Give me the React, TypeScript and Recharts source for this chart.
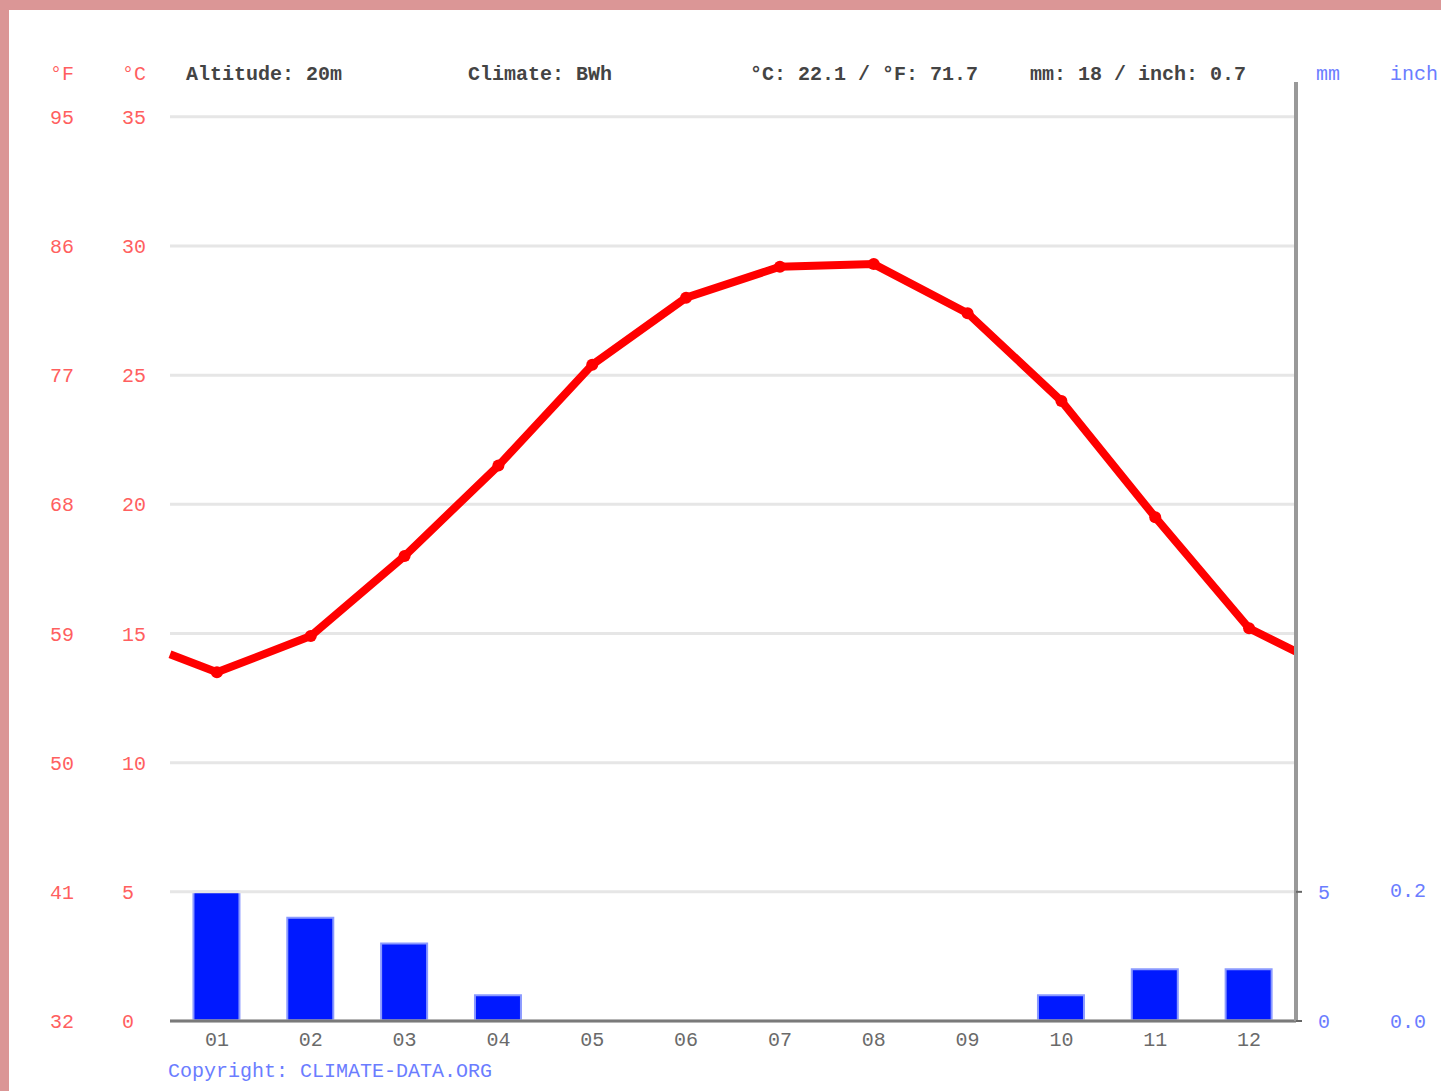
import React from 'react'
import { ComposedChart, Bar, Line, XAxis, YAxis, ReferenceLine } from 'recharts'

const months = ['01', '02', '03', '04', '05', '06', '07', '08', '09', '10', '11', '12']
const tempC = [13.5, 14.9, 18.0, 21.5, 25.4, 28.0, 29.2, 29.3, 27.4, 24.0, 19.5, 15.2]
const precipMm = [5, 4, 3, 1, 0, 0, 0, 0, 0, 1, 2, 2]
// where the red line meets the left / right edge of the plot
const edgeTempC = [14.2, 14.3]

const celsiusTicks = [0, 5, 10, 15, 20, 25, 30, 35]
const fahrenheitTicks = [32, 41, 50, 59, 68, 77, 86, 95]
const mmTicks = [0, 5]
const inchTicks = [0, 0.2]
const monthEdges = [0, 1, 2, 3, 4, 5, 6, 7, 8, 9, 10, 11, 12]
const monthCenters = months.map((_, i) => i + 0.5)

// plot top sits a little above 35 °C so the right axis line runs up to the header
const TOP_C = 36.35

const data = months.map((m, i) => ({ x: i + 0.5, month: m, temp: tempC[i], precip: precipMm[i] }))
const lineData = [{ x: 0, temp: edgeTempC[0] }, ...data, { x: 12, temp: edgeTempC[1] }]

const FONT = '"Liberation Mono", "DejaVu Sans Mono", monospace'
const RED = '#ff5f5f'
const BLUE = '#6b7dff'

const TempDot = (props: any) => {
  const { cx, cy, payload, index } = props
  if (!payload || !payload.month) return <g key={'d' + index} />
  return <circle key={'d' + index} cx={cx} cy={cy} r={6} fill="#ff0000" />
}

export default function App() {
  return (
    <div style={{ position: 'absolute', left: 0, top: 0, width: 1441, height: 1091, background: '#db9696', overflow: 'hidden' }}>
      <div style={{ position: 'absolute', left: 9, top: 10, right: 0, bottom: 0, background: '#ffffff' }} />
      <div style={{ position: 'absolute', left: 0, top: 0 }}>
        <ComposedChart width={1441} height={1091} data={data} margin={{ top: 82, right: 0, bottom: 22, left: 0 }}>
          <XAxis
            xAxisId="edges"
            dataKey="x"
            type="number"
            domain={[0, 12]}
            ticks={monthEdges}
            height={8}
            tick={false}
            tickSize={6}
            axisLine={{ stroke: '#7a7a7a', strokeWidth: 3 }}
            tickLine={{ stroke: '#555', strokeWidth: 2 }}
          />
          <XAxis
            xAxisId="labels"
            dataKey="x"
            type="number"
            domain={[0, 12]}
            ticks={monthCenters}
            height={40}
            axisLine={false}
            tickLine={false}
            tickSize={0}
            tickMargin={3}
            tickFormatter={(v: number) => months[Math.floor(v)]}
            tick={{ fill: '#6a6a6a', fontSize: 20, fontFamily: FONT }}
          />
          <YAxis
            yAxisId="l1c"
            type="number"
            domain={[0, TOP_C]}
            allowDataOverflow
            ticks={celsiusTicks}
            width={85}
            axisLine={false}
            tickLine={false}
            tickSize={0}
            tickMargin={48}
            tick={{ fill: RED, fontSize: 20, fontFamily: FONT, textAnchor: 'start' }}
          />
          <YAxis
            yAxisId="l2f"
            type="number"
            domain={[32, 32 + TOP_C * 1.8]}
            allowDataOverflow
            ticks={fahrenheitTicks}
            width={85}
            axisLine={false}
            tickLine={false}
            tickSize={0}
            tickMargin={35}
            tick={{ fill: RED, fontSize: 20, fontFamily: FONT, textAnchor: 'start' }}
          />
          <YAxis
            yAxisId="r1mm"
            orientation="right"
            type="number"
            domain={[0, TOP_C]}
            allowDataOverflow
            ticks={mmTicks}
            width={80}
            axisLine={{ stroke: '#999', strokeWidth: 4 }}
            tickLine={{ stroke: '#666', strokeWidth: 2 }}
            tickSize={6}
            tickMargin={16}
            tick={{ fill: BLUE, fontSize: 20, fontFamily: FONT }}
          />
          <YAxis
            yAxisId="r2inch"
            orientation="right"
            type="number"
            domain={[0, TOP_C / 25.4]}
            allowDataOverflow
            ticks={inchTicks}
            width={65}
            axisLine={false}
            tickLine={false}
            tickSize={0}
            tickMargin={14}
            tickFormatter={(v: number) => v.toFixed(1)}
            tick={{ fill: BLUE, fontSize: 20, fontFamily: FONT }}
          />
          {celsiusTicks.map((t) => (
            <ReferenceLine key={'g' + t} xAxisId="edges" yAxisId="l1c" y={t} stroke="#e6e6e6" strokeWidth={3} />
          ))}
          {/* invisible series so the °F and inch scales get drawn */}
          <Line
            xAxisId="edges"
            yAxisId="l2f"
            dataKey={(d: any) => d.temp * 1.8 + 32}
            stroke="none"
            dot={false}
            activeDot={false}
            isAnimationActive={false}
          />
          <Line
            xAxisId="edges"
            yAxisId="r2inch"
            dataKey={(d: any) => d.precip / 25.4}
            stroke="none"
            dot={false}
            activeDot={false}
            isAnimationActive={false}
          />
          <Bar
            xAxisId="edges"
            yAxisId="r1mm"
            dataKey="precip"
            barSize={46}
            fill="#0019ff"
            stroke="#8b9aff"
            strokeWidth={2}
            isAnimationActive={false}
          />
          <Line
            data={lineData}
            xAxisId="edges"
            yAxisId="l1c"
            dataKey="temp"
            type="linear"
            stroke="#ff0000"
            strokeWidth={8}
            dot={TempDot}
            activeDot={false}
            isAnimationActive={false}
          />
        </ComposedChart>
      </div>
      <svg width={1441} height={1091} style={{ position: 'absolute', left: 0, top: 0, pointerEvents: 'none' }}>
        <g fontFamily={FONT} fontSize={20}>
          <text x={50} y={80} fill={RED}>°F</text>
          <text x={122} y={80} fill={RED}>°C</text>
          <text x={186} y={80} fill="#444" fontWeight="bold">Altitude: 20m</text>
          <text x={468} y={80} fill="#444" fontWeight="bold">Climate: BWh</text>
          <text x={750} y={80} fill="#444" fontWeight="bold">°C: 22.1 / °F: 71.7</text>
          <text x={1030} y={80} fill="#444" fontWeight="bold">mm: 18 / inch: 0.7</text>
          <text x={1316} y={80} fill={BLUE}>mm</text>
          <text x={1390} y={80} fill={BLUE}>inch</text>
          <text x={168} y={1077} fill={BLUE}>Copyright: CLIMATE-DATA.ORG</text>
        </g>
      </svg>
    </div>
  )
}
